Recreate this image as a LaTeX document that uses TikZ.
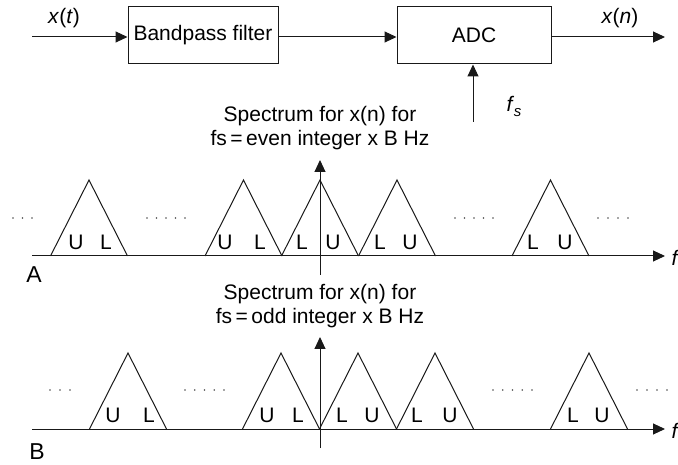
\documentclass[tikz,border=0pt]{standalone}
\usepackage{fontspec}
\setmainfont{Liberation Sans}
\usetikzlibrary{arrows.meta}
\begin{document}
\begin{tikzpicture}[x=1pt,y=-1pt,line width=1pt,
  every node/.style={font=\fontsize{21}{24}\selectfont, text=black},
  blk/.style={draw=black!90, minimum height=57pt, inner sep=0pt},
  arr/.style={draw=black!90, -{Triangle[length=12pt,width=11pt]}},
  tri/.style={draw=black!90, line join=miter},
  lbl/.style={inner sep=0pt},
  captxt/.style={align=center, inner sep=0pt}]
\useasboundingbox (0,0) rectangle (678,465);

% ---------- block diagram ----------
\node[blk, minimum width=150pt] (bpf) at (203,35.5) {Bandpass filter};
\node[blk, minimum width=154pt] (adc) at (474,35.5) {ADC};
\coordinate (in) at (32,37);
\coordinate (out) at (665,37);
\coordinate (fsb) at (473,122);
\draw[arr] (in) -- (in -| bpf.west);
\draw[arr] (bpf.east |- in) -- (in -| adc.west);
\draw[arr] (adc.east |- out) -- (out);
\draw[arr] (fsb) -- (fsb |- adc.south);
\node (xt) at (64,18) {\textit{x}(\textit{t})};
\node (xn) at (620,18) {\textit{x}(\textit{n})};
\node (fs) at (514,106) {\textit{f}\kern-0.5pt\raisebox{-5pt}{\fontsize{15}{15}\selectfont\textit{s}}};

% ---------- spectrum A ----------
\node[captxt] (capA) at (320,128) {Spectrum for x(n) for\\fs\,=\,even integer x B Hz};
\coordinate (a0) at (32,256);
\coordinate (a1) at (665,256);
\coordinate (av0) at (320,275);
\coordinate (av1) at (320,160);
\draw[arr] (a0) -- (a1);
\draw[arr] (av0) -- (av1);
\node[anchor=west, inner sep=0pt] (fA) at (671,258) {\textit{f}};
\node (A) at (34,275) {\fontsize{23}{23}\selectfont A};
\foreach \c in {89,243.5,320,397,550.5}
  \draw[tri] (\c-38.5,256) -- (\c,180) -- (\c+38.5,256);
\foreach \x/\t in {76/U,106/L,225/U,260/L,302/L,333/U,380/L,410/U,533/L,565/U}
  \node[lbl] at (\x,242) {\t};
\foreach \x in {13,22.5,32,147,156.5,166,175.5,185,455,464.5,474,483.5,493,598,608,618,628}
  \fill[black!70] (\x,218) circle (0.85pt);

% ---------- spectrum B ----------
\node[captxt] (capB) at (320,306) {Spectrum for x(n) for\\fs\,=\,odd integer x B Hz};
\coordinate (b0) at (32,429);
\coordinate (b1) at (665,429);
\coordinate (bv0) at (320,448);
\coordinate (bv1) at (320,337);
\draw[arr] (b0) -- (b1);
\draw[arr] (bv0) -- (bv1);
\node[anchor=west, inner sep=0pt] (fB) at (671,431) {\textit{f}};
\node (B) at (37,452) {\fontsize{23}{23}\selectfont B};
\foreach \c in {128,281,358,435,589}
  \draw[tri] (\c-38.5,429) -- (\c,353) -- (\c+38.5,429);
\foreach \x/\t in {113/U,149/L,267/U,298/L,342/L,372/U,417/L,450/U,573/L,602/U}
  \node[lbl] at (\x,415) {\t};
\foreach \x in {50,60,70,185,194.75,204.5,214.25,224,493,502.75,512.5,522.25,532,637,647,657,667}
  \fill[black!70] (\x,390) circle (0.85pt);
\end{tikzpicture}
\end{document}
